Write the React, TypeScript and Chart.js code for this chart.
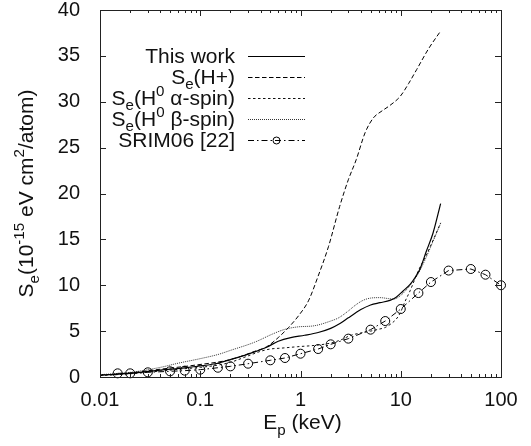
import React, { useEffect, useRef } from "react";
import { Chart, registerables } from "chart.js";

Chart.register(...registerables);

// Proton energy (keV) and electronic stopping (10^-15 eV cm^2/atom)
const thisWorkE = [0.01, 0.02, 0.04, 0.07, 0.1, 0.15, 0.2, 0.3, 0.46, 0.6, 0.8, 1.1, 1.5, 2.0, 2.5, 3.0, 3.5, 4.0, 5.0, 6.2, 7.8, 9.0, 10.5, 12.4, 14, 15.6, 18, 21, 25];
const thisWorkS = [0.2, 0.4, 0.75, 1.0, 1.2, 1.5, 1.9, 2.5, 3.25, 3.9, 4.3, 4.55, 4.85, 5.3, 5.85, 6.45, 6.95, 7.35, 7.85, 8.1, 8.35, 8.7, 9.35, 10.1, 10.9, 11.8, 13.7, 15.7, 18.9];

const hPlusE = [0.01, 0.02, 0.04, 0.09, 0.2, 0.35, 0.46, 0.6, 0.76, 0.96, 1.2, 1.5, 1.9, 2.46, 3.0, 3.6, 4.4, 5.3, 6.5, 7.8, 9.9, 12, 14.4, 19, 24.6];
const hPlusS = [0.2, 0.45, 0.85, 1.3, 1.9, 2.8, 3.3, 4.3, 5.4, 6.7, 8.3, 11.0, 14.2, 18.6, 21.5, 23.7, 26.6, 28.2, 29.0, 29.6, 30.6, 32.0, 33.5, 35.8, 37.6];

const alphaE = [0.01, 0.02, 0.04, 0.07, 0.1, 0.15, 0.2, 0.3, 0.4, 0.5, 0.65, 0.93, 1.4, 2.0, 2.6, 3.1, 4.0, 5.0, 6.0, 7.0, 8.0, 9.0, 9.9, 11, 12.4, 15, 18, 21, 25];
const alphaS = [0.15, 0.35, 0.65, 0.9, 1.05, 1.3, 1.6, 2.3, 2.8, 3.05, 3.15, 3.3, 3.45, 3.7, 4.1, 4.5, 4.8, 5.0, 5.2, 5.4, 5.8, 6.3, 7.0, 8.2, 9.4, 11.6, 13.3, 14.9, 16.8];

const betaE = [0.01, 0.02, 0.04, 0.06, 0.1, 0.15, 0.2, 0.35, 0.53, 0.7, 0.92, 1.4, 2.0, 2.4, 3.0, 3.5, 4.2, 5.0, 6.2, 7.5, 8.5, 10, 12.4, 15, 18.2, 21, 25];
const betaS = [0.25, 0.5, 1.05, 1.5, 2.0, 2.45, 2.9, 3.8, 4.7, 5.2, 5.45, 5.6, 6.1, 6.45, 7.2, 7.8, 8.35, 8.6, 8.65, 8.55, 8.5, 8.9, 10.0, 11.3, 13.2, 14.8, 16.75];

const srimE = [0.015, 0.02, 0.03, 0.05, 0.07, 0.1, 0.15, 0.2, 0.3, 0.5, 0.7, 1, 1.5, 2, 3, 5, 7, 10, 15, 20, 30, 50, 70, 100];
const srimS = [0.4, 0.4, 0.51, 0.62, 0.69, 0.8, 1.01, 1.16, 1.45, 1.82, 2.07, 2.54, 3.05, 3.56, 4.18, 5.16, 6.1, 7.41, 9.15, 10.35, 11.6, 11.77, 11.15, 10.0];

const xDecades = [0.01, 0.1, 1, 10, 100];
const yTicks = [0, 5, 10, 15, 20, 25, 30, 35, 40];

type Seg = { t: string; s?: "sub" | "sup" };

// Legend labels with sub/superscripts
const legendLabels: Seg[][] = [
  [{ t: "This work" }],
  [{ t: "S" }, { t: "e", s: "sub" }, { t: "(H+)" }],
  [{ t: "S" }, { t: "e", s: "sub" }, { t: "(H" }, { t: "0", s: "sup" }, { t: " \u03b1-spin)" }],
  [{ t: "S" }, { t: "e", s: "sub" }, { t: "(H" }, { t: "0", s: "sup" }, { t: " \u03b2-spin)" }],
  [{ t: "SRIM06 [22]" }],
];
const yTitle: Seg[] = [
  { t: "S" }, { t: "e", s: "sub" }, { t: "(10" }, { t: "-15", s: "sup" },
  { t: " eV cm" }, { t: "2", s: "sup" }, { t: "/atom)" },
];
const xTitle: Seg[] = [{ t: "E" }, { t: "p", s: "sub" }, { t: " (keV)" }];

const FAMILY = "'Liberation Sans', Arial, Helvetica, sans-serif";
const TEXT = "#111";

const pairs = (xs: number[], ys: number[]) => xs.map((x, i) => ({ x, y: ys[i] }));

function drawRich(ctx: CanvasRenderingContext2D, segs: Seg[], x: number, y: number, align: "left" | "right" | "center", size: number) {
  const small = size * 0.72;
  const fontOf = (s?: string) => `${s ? small : size}px ${FAMILY}`;
  let w = 0;
  for (const seg of segs) {
    ctx.font = fontOf(seg.s);
    w += ctx.measureText(seg.t).width;
  }
  let cx = align === "right" ? x - w : align === "center" ? x - w / 2 : x;
  ctx.textAlign = "left";
  ctx.textBaseline = "alphabetic";
  for (const seg of segs) {
    ctx.font = fontOf(seg.s);
    const dy = seg.s === "sub" ? size * 0.28 : seg.s === "sup" ? -size * 0.42 : 0;
    ctx.fillText(seg.t, cx, y + dy);
    cx += ctx.measureText(seg.t).width;
  }
}

const framePlugin = {
  id: "frameAndLegend",
  afterDraw(chart: any) {
    const ctx: CanvasRenderingContext2D = chart.ctx;
    const { left, right, top, bottom } = chart.chartArea;
    const xs = chart.scales.x;
    const ys = chart.scales.y;
    ctx.save();
    ctx.strokeStyle = "#222";
    ctx.lineWidth = 1;
    ctx.setLineDash([]);
    ctx.strokeRect(Math.round(left) + 0.5, Math.round(top) + 0.5, Math.round(right - left), Math.round(bottom - top));

    ctx.beginPath();
    // x ticks (inside, bottom and top)
    xDecades.forEach((d, i) => {
      const px = Math.round(xs.getPixelForValue(d)) + 0.5;
      ctx.moveTo(px, bottom); ctx.lineTo(px, bottom - 6);
      ctx.moveTo(px, top); ctx.lineTo(px, top + 6);
      if (i < xDecades.length - 1) {
        for (let m = 2; m <= 9; m++) {
          const mp = Math.round(xs.getPixelForValue(d * m)) + 0.5;
          ctx.moveTo(mp, bottom); ctx.lineTo(mp, bottom - 3);
          ctx.moveTo(mp, top); ctx.lineTo(mp, top + 3);
        }
      }
    });
    // y ticks (inside, left and right)
    yTicks.forEach((v) => {
      const py = Math.round(ys.getPixelForValue(v)) + 0.5;
      ctx.moveTo(left, py); ctx.lineTo(left + 6, py);
      ctx.moveTo(right, py); ctx.lineTo(right - 6, py);
    });
    ctx.stroke();

    // legend
    ctx.fillStyle = TEXT;
    const textRight = 235;
    const sx0 = 248;
    const sx1 = 305;
    chart.data.datasets.forEach((ds: any, i: number) => {
      const base = 62.5 + i * 21;
      drawRich(ctx, legendLabels[i], textRight, base, "right", 21);
      const ly = Math.round(base - 7) + 0.5;
      ctx.strokeStyle = ds.borderColor;
      ctx.lineWidth = ds.borderWidth;
      ctx.setLineDash(ds.borderDash || []);
      ctx.beginPath();
      ctx.moveTo(sx0, ly);
      ctx.lineTo(sx1, ly);
      ctx.stroke();
      if (ds.pointRadius > 0) {
        ctx.setLineDash([]);
        ctx.lineWidth = 1;
        ctx.beginPath();
        ctx.arc((sx0 + sx1) / 2, ly, 3.5, 0, Math.PI * 2);
        ctx.stroke();
      }
    });

    // axis titles
    ctx.fillStyle = TEXT;
    drawRich(ctx, xTitle, (left + right) / 2 + 2, 429, "center", 21);
    ctx.save();
    ctx.translate(33, (top + bottom) / 2);
    ctx.rotate(-Math.PI / 2);
    drawRich(ctx, yTitle, 0, 0, "center", 21);
    ctx.restore();
    ctx.restore();
  },
};

export default function App() {
  const ref = useRef<HTMLCanvasElement>(null);

  useEffect(() => {
    if (!ref.current) return;
    const chart = new Chart(ref.current, {
      type: "line",
      data: {
        datasets: [
          {
            label: "This work",
            data: pairs(thisWorkE, thisWorkS),
            borderColor: "#000",
            borderWidth: 1.2,
            pointRadius: 0,
            cubicInterpolationMode: "monotone",
          },
          {
            label: "Se(H+)",
            data: pairs(hPlusE, hPlusS),
            borderColor: "#000",
            borderWidth: 1,
            borderDash: [4.5, 2.5],
            pointRadius: 0,
            cubicInterpolationMode: "monotone",
          },
          {
            label: "Se(H0 alpha-spin)",
            data: pairs(alphaE, alphaS),
            borderColor: "#111",
            borderWidth: 1,
            borderDash: [2.5, 2.5],
            pointRadius: 0,
            cubicInterpolationMode: "monotone",
          },
          {
            label: "Se(H0 beta-spin)",
            data: pairs(betaE, betaS),
            borderColor: "#333",
            borderWidth: 1,
            borderDash: [1, 1],
            pointRadius: 0,
            cubicInterpolationMode: "monotone",
          },
          {
            label: "SRIM06 [22]",
            data: pairs(srimE, srimS),
            borderColor: "#000",
            borderWidth: 1,
            borderDash: [6, 3, 1.5, 3],
            pointRadius: 4.5,
            pointBorderWidth: 1,
            pointBorderColor: "#000",
            pointBackgroundColor: "rgba(0,0,0,0)",
            pointStyle: "circle",
            tension: 0,
            clip: false,
          },
        ] as any,
      },
      options: {
        animation: false,
        responsive: false,
        devicePixelRatio: 1,
        layout: { padding: { top: 10, right: 30, left: 0, bottom: 0 } },
        plugins: { legend: { display: false }, tooltip: { enabled: false } },
        scales: {
          x: {
            type: "logarithmic",
            min: 0.01,
            max: 100,
            grid: { display: false },
            border: { display: false },
            afterBuildTicks: (scale: any) => {
              scale.ticks = xDecades.map((v) => ({ value: v }));
            },
            afterFit: (scale: any) => {
              scale.height = 69;
              scale.paddingLeft = 0;
              scale.paddingRight = 0;
            },
            ticks: {
              autoSkip: false,
              maxRotation: 0,
              padding: 3,
              color: TEXT,
              font: { family: FAMILY, size: 20 },
              callback: (v: any) => String(v),
            },
          },
          y: {
            type: "linear",
            min: 0,
            max: 40,
            grid: { display: false },
            border: { display: false },
            afterFit: (scale: any) => {
              scale.width = 100;
              scale.paddingTop = 0;
              scale.paddingBottom = 0;
            },
            ticks: {
              stepSize: 5,
              padding: 12,
              color: TEXT,
              font: { family: FAMILY, size: 20 },
            },
          },
        },
      } as any,
      plugins: [framePlugin],
    });
    return () => chart.destroy();
  }, []);

  return (
    <div style={{ position: "absolute", left: 0, top: 0, width: 531, height: 446, background: "#fff" }}>
      <canvas ref={ref} width={531} height={446} />
    </div>
  );
}
